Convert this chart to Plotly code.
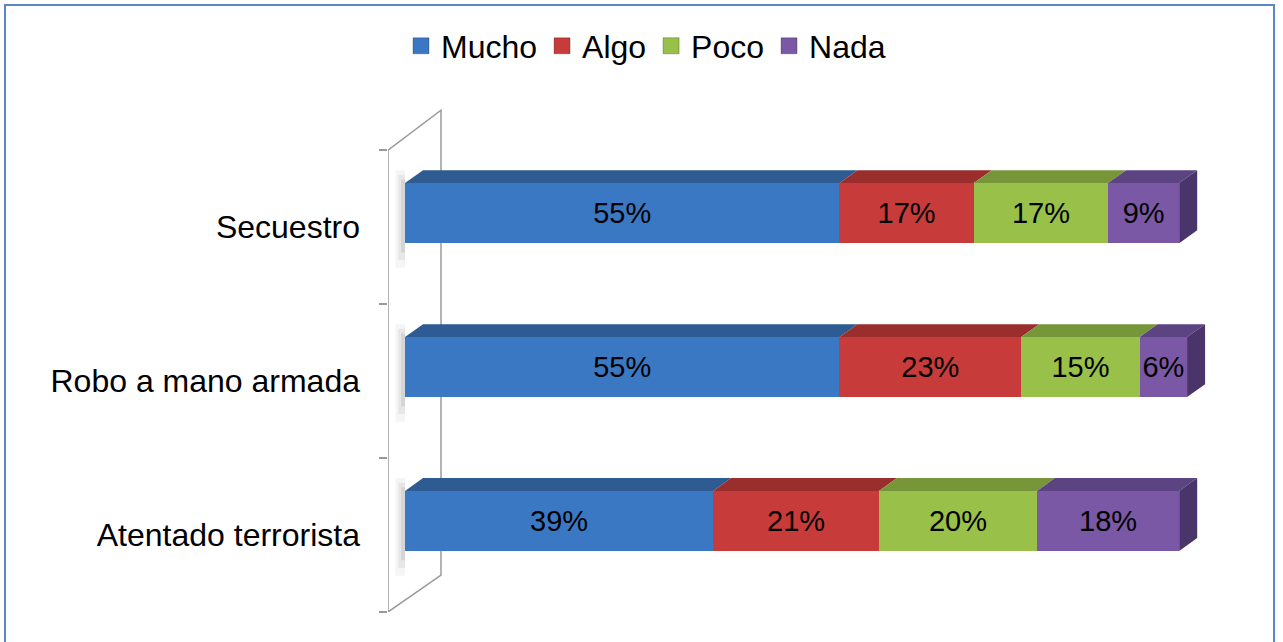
import plotly.graph_objects as go

categories = ["Atentado terrorista", "Robo a mano armada", "Secuestro"]
series_names = ["Mucho", "Algo", "Poco", "Nada"]
mucho = [39, 55, 55]
algo = [21, 23, 17]
poco = [20, 15, 17]
nada = [18, 6, 9]
values = [mucho, algo, poco, nada]

front_colors = ["#3b78c4", "#c73c3b", "#99c048", "#7a58a5"]
top_colors = ["#2d5b92", "#9a2e2d", "#779639", "#5c4382"]
side_colors = ["#25497a", "#7c2525", "#5f7a2d", "#4a356a"]

W, H = 1283, 642
L, R, T, B = 388, 43, 104, 30
xr = [-2.152, 105.70]
yr = [-0.5, 2.8]
bw = 0.39
off = -0.104
dx, dy = 2.28, 0.084

ypos = list(range(len(categories)))

fig = go.Figure()

# soft shadow of the bars on the back wall (left of the bars only)
for k, a in enumerate([0.05, 0.07, 0.10]):
    sxs, sys_ = [], []
    for ci in ypos:
        yb = ypos[ci] + off - 0.16 + k * 0.05
        yt = ypos[ci] + off + bw + dy - k * 0.03
        x0 = -1.2 + k * 0.35
        sxs += [x0, 0, 0, x0, x0, None]
        sys_ += [yb, yb, yt, yt, yb, None]
    fig.add_trace(go.Scatter(x=sxs, y=sys_, fill="toself", mode="lines",
                             line=dict(width=0, color="rgba(0,0,0,0)"),
                             fillcolor=f"rgba(60,60,60,{a})", showlegend=False, hoverinfo="skip"))

# front faces
for name, vals, col in zip(series_names, values, front_colors):
    fig.add_trace(go.Bar(
        y=ypos, x=vals, name=name, orientation="h",
        width=bw, offset=off,
        marker=dict(color=col, line=dict(width=0)),
        texttemplate="%{x}%", textposition="inside", insidetextanchor="middle",
        textangle=0, constraintext="none",
        textfont=dict(family="Liberation Sans, Arial", size=29, color="black"),
        hoverinfo="skip", showlegend=False,
    ))

# 3D top faces and end side faces
cum = [0.0] * len(categories)
for si, vals in enumerate(values):
    xs, ys = [], []
    sx, sy = [], []
    for ci, v in enumerate(vals):
        x0 = cum[ci]
        x1 = x0 + v
        yt = ypos[ci] + off + bw
        yb = ypos[ci] + off
        xs += [x0, x1, x1 + dx, x0 + dx, x0, None]
        ys += [yt, yt, yt + dy, yt + dy, yt, None]
        if si == len(values) - 1:
            sx += [x1, x1 + dx, x1 + dx, x1, x1, None]
            sy += [yb, yb + dy, yt + dy, yt, yb, None]
        cum[ci] = x1
    fig.add_trace(go.Scatter(x=xs, y=ys, fill="toself", mode="lines",
                             line=dict(width=0, color=top_colors[si]),
                             fillcolor=top_colors[si], showlegend=False, hoverinfo="skip"))
    if sx:
        fig.add_trace(go.Scatter(x=sx, y=sy, fill="toself", mode="lines",
                                 line=dict(width=0, color=side_colors[si]),
                                 fillcolor=side_colors[si], showlegend=False, hoverinfo="skip"))

# legend entries (larger square symbols)
for name, col in zip(series_names, front_colors):
    fig.add_trace(go.Scatter(x=[None], y=[None], mode="markers", name=name,
                             marker=dict(symbol="square", size=16, color=col,
                                         line=dict(width=1, color="rgba(0,0,0,0.25)")),
                             showlegend=True, hoverinfo="skip"))

# back wall
wx_front = xr[0]
wx_back = 4.557
fig.add_shape(type="path",
              path=f"M {wx_front},-0.5 L {wx_front},2.5 L {wx_back},2.76 L {wx_back},-0.26 Z",
              xref="x", yref="y", line=dict(color="#9a9a9a", width=1.5),
              fillcolor="rgba(0,0,0,0)", layer="below")

# outer frame
pw = W - L - R
ph = H - T - B
def px2x(p):
    return (p - L) / pw
def py2y(p):
    return (H - B - p) / ph
fig.add_shape(type="rect", xref="paper", yref="paper",
              x0=px2x(5), x1=px2x(1274), y0=py2y(650), y1=py2y(5),
              line=dict(color="#5b87c6", width=2), fillcolor="rgba(0,0,0,0)")

fig.update_layout(
    width=W, height=H,
    margin=dict(l=L, r=R, t=T, b=B),
    barmode="stack",
    plot_bgcolor="white", paper_bgcolor="white",
    font=dict(family="Liberation Sans, Arial", color="black"),
    showlegend=True,
    legend=dict(orientation="h", xref="container", yref="container",
                x=646 / W, xanchor="center", y=1 - 46 / H, yanchor="middle",
                traceorder="normal", font=dict(size=32), itemwidth=30),
    xaxis=dict(range=xr, showgrid=False, zeroline=False, showline=False,
               showticklabels=False, ticks="", fixedrange=True),
    yaxis=dict(range=yr, showgrid=False, zeroline=False, showline=False,
               tickmode="array", tickvals=ypos, ticktext=categories, ticks="",
               tickfont=dict(size=32, color="black"), ticklabelstandoff=27, fixedrange=True,
               minor=dict(tickmode="array", tickvals=[-0.5, 0.5, 1.5, 2.5],
                          ticks="outside", ticklen=8, tickcolor="#9a9a9a", tickwidth=1.5)),
)

fig.write_html("out.html", config={"displayModeBar": False},
               post_script="document.body.style.margin='0';document.body.style.overflow='hidden';")
